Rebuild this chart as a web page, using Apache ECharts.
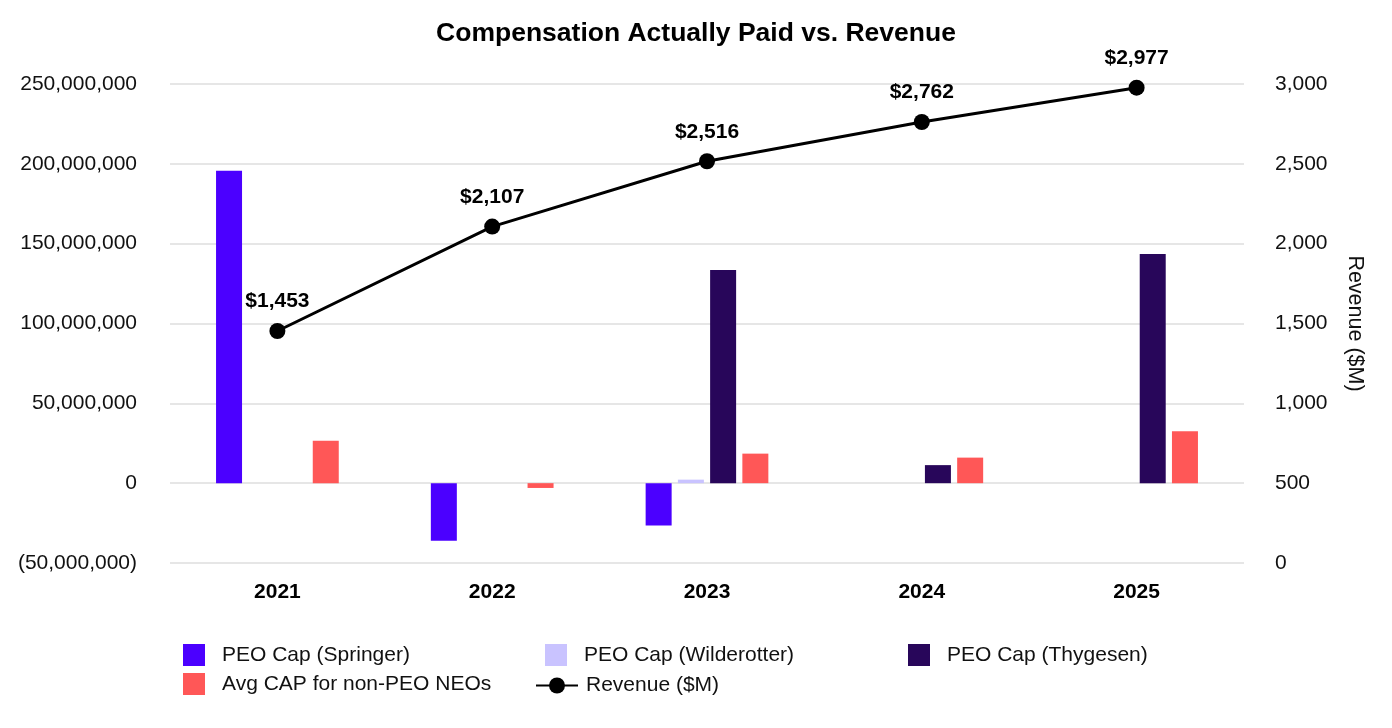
<!DOCTYPE html>
<html><head><meta charset="utf-8">
<script src="https://cdn.jsdelivr.net/npm/echarts@6/dist/echarts.min.js"></script>
<style>html,body{margin:0;padding:0;background:#fff}#c{width:1392px;height:728px}</style>
</head><body><div id="c"></div>
<script>
const categories = ['2021','2022','2023','2024','2025'];
const springer = [195.6e6, -36e6, -26.5e6, null, null];
const wilderotter = [null, null, 2.2e6, null, null];
const thygesen = [null, null, 133.5e6, 11.3e6, 143.5e6];
const avgNeo = [26.5e6, -3e6, 18.5e6, 16e6, 32.5e6];
const revenue = [1453, 2107, 2516, 2762, 2977];
const leftTicks = {min: -50e6, max: 250e6, interval: 50e6};
const rightTicks = {min: 0, max: 3000, interval: 500};

const FONT = '"Liberation Sans", Arial, Helvetica, sans-serif';
const chart = echarts.init(document.getElementById('c'));
function fmtNum(v){
  const s = Math.abs(v).toLocaleString('en-US');
  return v < 0 ? '(' + s + ')' : s;
}
const legendText = {fontFamily: FONT, fontSize: 21, color: '#111', padding:[0,0,0,12]};
function leg(name, left, top){
  return {data:[{name:name, icon:'rect'}], left:left, top:top, itemWidth:22, itemHeight:22, itemGap:0,
    textStyle:legendText, selectedMode:false, padding:0};
}
const barBase = {type:'bar', barWidth:26, barGap:'24%'};
chart.setOption({
  animation:false,
  backgroundColor:'#fff',
  title:{text:'Compensation Actually Paid vs. Revenue', left:'center', top:15,
    textStyle:{fontFamily:FONT, fontSize:26.5, fontWeight:'bold', color:'#000'}},
  grid:{left:170, right:148, top:84, bottom:165, containLabel:false},
  legend:[
    leg('PEO Cap (Springer)', 183, 644),
    leg('PEO Cap (Wilderotter)', 545, 644),
    leg('PEO Cap (Thygesen)', 908, 644),
    leg('Avg CAP for non-PEO NEOs', 183, 673),
    {data:['Revenue ($M)'], left:535, top:675, itemWidth:42, itemHeight:20, itemGap:0,
      textStyle:Object.assign({}, legendText, {padding:[0,0,0,3]}), selectedMode:false, padding:0}
  ],
  xAxis:{type:'category', data:categories,
    axisLine:{show:false}, axisTick:{show:false},
    axisLabel:{fontFamily:FONT, fontSize:21, fontWeight:'bold', color:'#000', margin:19}},
  yAxis:[
    {type:'value', min:leftTicks.min, max:leftTicks.max, interval:leftTicks.interval,
      axisLine:{show:false}, axisTick:{show:false},
      axisLabel:{fontFamily:FONT, fontSize:21, color:'#111', margin:33, formatter:fmtNum},
      splitLine:{lineStyle:{color:'#e6e6e6', width:2}}},
    {type:'value', min:rightTicks.min, max:rightTicks.max, interval:rightTicks.interval,
      position:'right', name:'Revenue ($M)', nameLocation:'middle', nameRotate:-90, nameGap:100,
      nameTextStyle:{fontFamily:FONT, fontSize:21.5, color:'#111'},
      axisLine:{show:false}, axisTick:{show:false},
      axisLabel:{fontFamily:FONT, fontSize:21, color:'#111', margin:31, formatter:fmtNum},
      splitLine:{show:false}}
  ],
  series:[
    Object.assign({}, barBase, {name:'PEO Cap (Springer)', data:springer, itemStyle:{color:'#4B00FF'}}),
    Object.assign({}, barBase, {name:'PEO Cap (Wilderotter)', data:wilderotter, itemStyle:{color:'#C9C3FF'}}),
    Object.assign({}, barBase, {name:'PEO Cap (Thygesen)', data:thygesen, itemStyle:{color:'#28065A'}}),
    Object.assign({}, barBase, {name:'Avg CAP for non-PEO NEOs', data:avgNeo, itemStyle:{color:'#FF5757'}}),
    {type:'line', name:'Revenue ($M)', yAxisIndex:1, data:revenue, symbol:'circle', symbolSize:16,
      lineStyle:{color:'#000', width:3}, itemStyle:{color:'#000'},
      label:{show:true, position:'top', distance:11, fontFamily:FONT, fontSize:21, fontWeight:'bold', color:'#000',
        formatter:p => '$' + p.value.toLocaleString('en-US')}}
  ]
});
</script></body></html>
